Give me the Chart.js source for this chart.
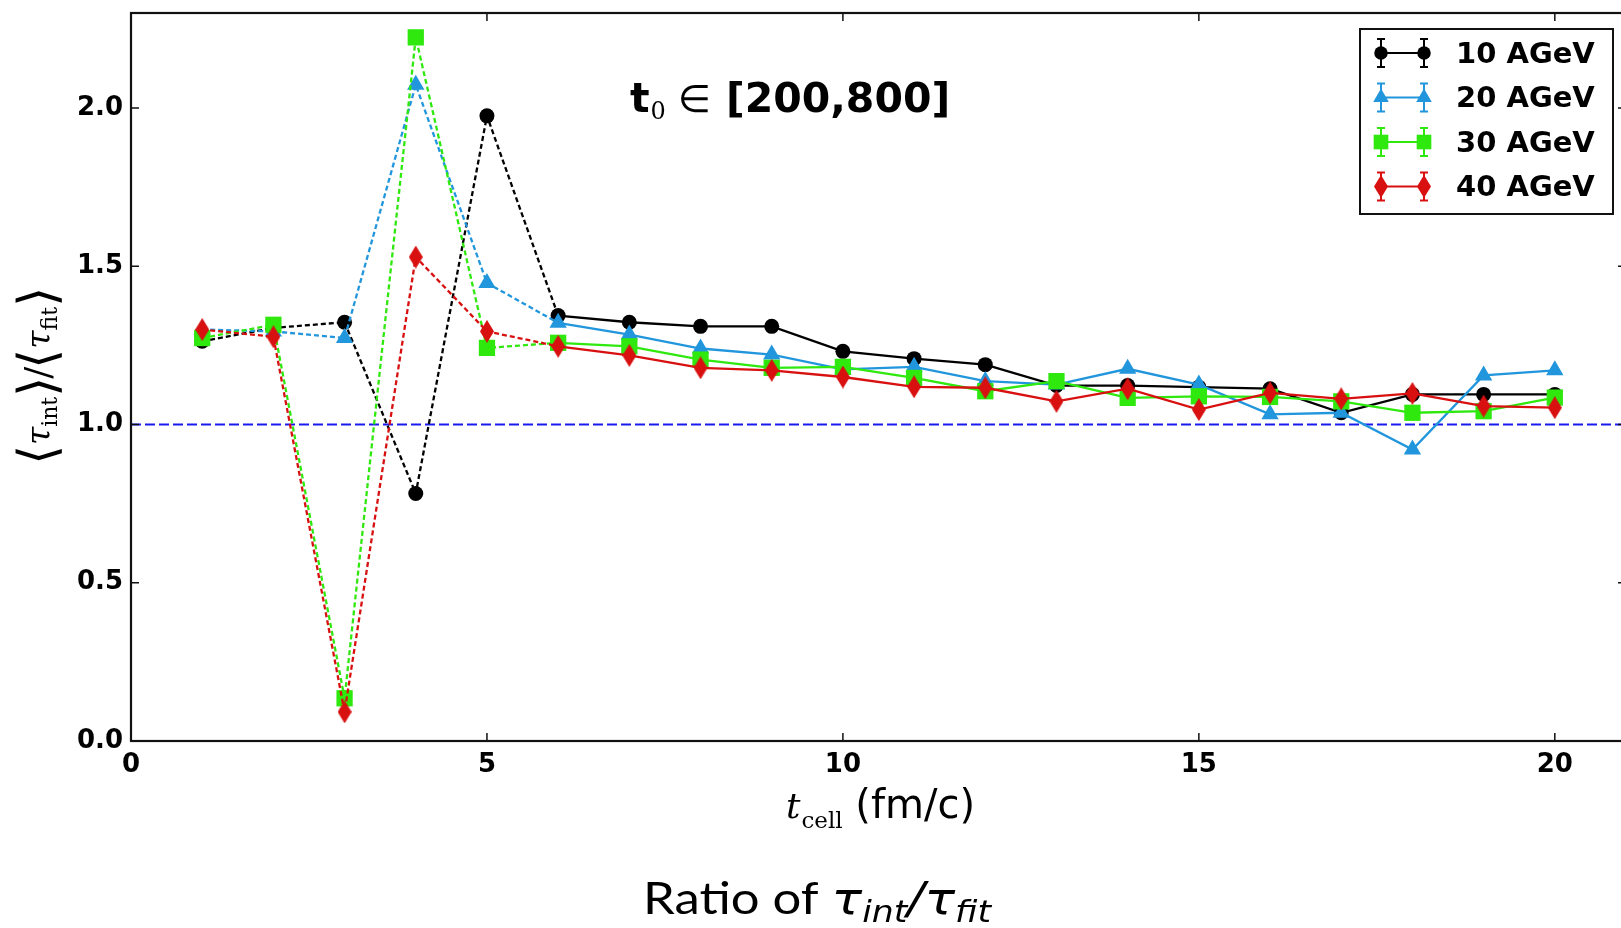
<!DOCTYPE html>
<html>
<head>
<meta charset="utf-8">
<script src="https://cdn.jsdelivr.net/npm/chart.js@4/dist/chart.umd.min.js"></script>
<style>
  html, body { margin: 0; padding: 0; background: #fff; overflow: hidden; }
  #wrap { width: 1660px; height: 928px; }
</style>
</head>
<body>
<div id="wrap"><canvas id="ratioChart" width="1660" height="928"></canvas></div>
<script>
// t_cell (fm/c)
const tCell = [1, 2, 3, 4, 5, 6, 7, 8, 9, 10, 11, 12, 13, 14, 15, 16, 17, 18, 19, 20];

// <tau_int>/<tau_fit> for each beam energy
const ratio10 = [1.263, 1.305, 1.323, 0.782, 1.975, 1.344, 1.323, 1.310, 1.310, 1.231, 1.208, 1.189, 1.123, 1.123, 1.118, 1.113, 1.037, 1.095, 1.095, 1.095];
const ratio20 = [1.300, 1.294, 1.273, 2.073, 1.447, 1.321, 1.284, 1.240, 1.221, 1.174, 1.182, 1.137, 1.126, 1.176, 1.126, 1.032, 1.037, 0.921, 1.155, 1.171];
const ratio30 = [1.273, 1.315, 0.135, 2.223, 1.242, 1.258, 1.247, 1.205, 1.179, 1.182, 1.147, 1.105, 1.137, 1.084, 1.089, 1.087, 1.073, 1.037, 1.042, 1.085];
const ratio40 = [1.300, 1.277, 0.092, 1.529, 1.294, 1.247, 1.218, 1.179, 1.171, 1.150, 1.119, 1.116, 1.073, 1.113, 1.047, 1.100, 1.081, 1.098, 1.058, 1.053];

const seriesLabels = ["10 AGeV", "20 AGeV", "30 AGeV", "40 AGeV"];
const xTicks = [0, 5, 10, 15, 20];
const yTicks = [0.0, 0.5, 1.0, 1.5, 2.0];
const xRange = [0, 21];
const yRange = [0, 2.3];
const refLineY = 1.0;
const dashUntil = 6;   // segments up to t_cell = 6 are dashed

const COLORS = {
  black: "#000000",
  blue: "#2196dc",
  green: "#2ee80e",
  red: "#d81010",
  ref: "#1a1aee"
};

// thin diamond (matplotlib "d") as a small canvas for pointStyle
function makeThinDiamond(color, w, h) {
  const c = document.createElement("canvas");
  c.width = w; c.height = h;
  const g = c.getContext("2d");
  g.fillStyle = color;
  g.beginPath();
  g.moveTo(w / 2, 0);
  g.lineTo(w, h / 2);
  g.lineTo(w / 2, h);
  g.lineTo(0, h / 2);
  g.closePath();
  g.fill();
  return c;
}
const diamondRed = makeThinDiamond(COLORS.red, 14, 23);

function toPoints(ys) {
  return tCell.map((x, i) => ({ x: x, y: ys[i] }));
}

function seriesDataset(label, ys, color, pointStyle, radius, order) {
  return {
    label: label,
    data: toPoints(ys),
    borderColor: color,
    backgroundColor: color,
    pointBackgroundColor: color,
    pointBorderColor: color,
    pointBorderWidth: 0,
    pointStyle: pointStyle,
    pointRadius: radius,
    borderWidth: 2.3,
    tension: 0,
    order: order,
    segment: {
      borderDash: ctx => ctx.p1.parsed.x <= dashUntil ? [5, 3] : undefined
    }
  };
}

// ---------- ตัวช่วยวาดข้อความแบบมีตัวห้อย ----------
function drawPieces(ctx, pieces, x, y) {
  let cx = x;
  pieces.forEach(p => {
    ctx.font = p.font;
    ctx.fillText(p.text, cx, y + (p.dy || 0));
    cx += ctx.measureText(p.text).width + (p.gap || 0);
  });
  return cx - x;
}
function measurePieces(ctx, pieces) {
  let w = 0;
  pieces.forEach(p => {
    ctx.font = p.font;
    w += ctx.measureText(p.text).width + (p.gap || 0);
  });
  return w;
}

// frame + inward ticks on all four sides
const framePlugin = {
  id: "frame",
  afterDatasetsDraw(chart) {
    const { ctx, chartArea: a, scales } = chart;
    ctx.save();
    ctx.strokeStyle = "#111";
    ctx.lineWidth = 1.5;
    const tl = 8;
    ctx.beginPath();
    xTicks.forEach(v => {
      const px = scales.x.getPixelForValue(v);
      ctx.moveTo(px, a.bottom); ctx.lineTo(px, a.bottom - tl);
      ctx.moveTo(px, a.top); ctx.lineTo(px, a.top + tl);
    });
    yTicks.forEach(v => {
      const py = scales.y.getPixelForValue(v);
      ctx.moveTo(a.left, py); ctx.lineTo(a.left + tl, py);
      ctx.moveTo(a.right, py); ctx.lineTo(a.right - tl, py);
    });
    ctx.stroke();
    ctx.lineWidth = 2.2;
    ctx.strokeRect(a.left, a.top, a.right - a.left, a.bottom - a.top);
    ctx.restore();
  }
};

// legend box, title and axis labels
const annotPlugin = {
  id: "annot",
  afterDraw(chart) {
    const ctx = chart.ctx;
    const a = chart.chartArea;
    ctx.save();
    ctx.fillStyle = "#000";
    ctx.textBaseline = "alphabetic";

    // ---- legend ----
    const box = { x: 1360, y: 29, w: 253, h: 185 };
    ctx.fillStyle = "#fff";
    ctx.fillRect(box.x, box.y, box.w, box.h);
    ctx.strokeStyle = "#111";
    ctx.lineWidth = 2;
    ctx.strokeRect(box.x, box.y, box.w, box.h);
    const series = chart.data.datasets.filter(d => d.legendEntry);
    series.forEach((ds, i) => {
      const cy = 53 + i * 44.5;
      const x0 = 1381, x1 = 1424;
      ctx.strokeStyle = ds.borderColor;
      ctx.lineWidth = 2;
      ctx.beginPath();
      ctx.moveTo(x0, cy); ctx.lineTo(x1, cy);
      // error bars with caps
      [x0, x1].forEach(ex => {
        ctx.moveTo(ex, cy - 14); ctx.lineTo(ex, cy + 14);
        ctx.moveTo(ex - 4, cy - 14); ctx.lineTo(ex + 4, cy - 14);
        ctx.moveTo(ex - 4, cy + 14); ctx.lineTo(ex + 4, cy + 14);
      });
      ctx.stroke();
      [x0, x1].forEach(ex => {
        ctx.fillStyle = ds.backgroundColor;
        Chart.helpers.drawPoint(ctx, {
          pointStyle: ds.pointStyle, radius: ds.pointRadius * 0.9, rotation: 0, borderWidth: 0
        }, ex, cy);
      });
      ctx.fillStyle = "#000";
      ctx.font = "bold 29px 'DejaVu Sans'";
      ctx.textBaseline = "middle";
      ctx.fillText(ds.label, 1456, cy + 2);
      ctx.textBaseline = "alphabetic";
    });

    // ---- title t0 ∈ [200,800] ----
    drawPieces(ctx, [
      { text: "t", font: "bold 41px 'DejaVu Sans'", gap: 1 },
      { text: "0", font: "24px 'DejaVu Serif'", dy: 7, gap: 12 },
      { text: "∈", font: "38px 'DejaVu Sans'", gap: 15 },
      { text: "[200,800]", font: "bold 41px 'DejaVu Sans'" }
    ], 630, 112);

    // ---- x axis label ----
    const xl = [
      { text: "t", font: "italic 36px 'DejaVu Serif'", gap: 1 },
      { text: "cell", font: "23px 'DejaVu Serif'", dy: 10, gap: 0 },
      { text: " (fm/c)", font: "40px 'DejaVu Sans'" }
    ];
    const xlw = measurePieces(ctx, xl);
    drawPieces(ctx, xl, (a.left + a.right) / 2 - xlw / 2 + 2, 818);

    // ---- y axis label (rotated) ----
    const br = "200 52px 'DejaVu Sans'";
    const yl = [
      { text: "⟨", font: br, dy: 5 },
      { text: "τ", font: "italic 33px 'DejaVu Serif'" },
      { text: "int", font: "22px 'DejaVu Serif'", dy: 7 },
      { text: "⟩", font: br, dy: 5, gap: -2 },
      { text: "/", font: "36px 'DejaVu Serif'", gap: -2 },
      { text: "⟨", font: br, dy: 5 },
      { text: "τ", font: "italic 33px 'DejaVu Serif'" },
      { text: "fit", font: "22px 'DejaVu Serif'", dy: 7 },
      { text: "⟩", font: br, dy: 5 }
    ];
    const ylw = measurePieces(ctx, yl);
    ctx.save();
    ctx.translate(50, 376);
    ctx.rotate(-Math.PI / 2);
    drawPieces(ctx, yl, -ylw / 2, 0);
    ctx.restore();

    // ---- caption ----
    const cap = [
      { text: "Ratio of ", font: "44px Lato" },
      { text: "τ", font: "italic 44px 'DejaVu Sans'" },
      { text: "int", font: "italic 30px 'DejaVu Sans'", dy: 8 },
      { text: "/", font: "italic 44px 'DejaVu Sans'" },
      { text: "τ", font: "italic 44px 'DejaVu Sans'" },
      { text: "fit", font: "italic 30px 'DejaVu Sans'", dy: 8 }
    ];
    const capW = measurePieces(ctx, cap);
    const targetW = 348;
    ctx.save();
    ctx.translate(643, 914);
    ctx.scale(targetW / capW, 1);
    drawPieces(ctx, cap, 0, 0);
    ctx.restore();

    ctx.restore();
  }
};

const datasets = [
  seriesDataset(seriesLabels[0], ratio10, COLORS.black, "circle", 7.5, 4),
  seriesDataset(seriesLabels[1], ratio20, COLORS.blue, "triangle", 10, 3),
  seriesDataset(seriesLabels[2], ratio30, COLORS.green, "rect", 11.5, 2),
  seriesDataset(seriesLabels[3], ratio40, COLORS.red, diamondRed, 8, 1)
];
datasets.forEach(d => { d.legendEntry = true; });
datasets.push({
  label: "ref",
  data: xRange.map(x => ({ x: x, y: refLineY })),
  borderColor: COLORS.ref,
  borderWidth: 2,
  borderDash: [10, 4],
  pointRadius: 0,
  order: 5
});

function noEdgePadding(s) {
  s.paddingTop = 0; s.paddingBottom = 0; s.paddingLeft = 0; s.paddingRight = 0;
}

new Chart(document.getElementById("ratioChart"), {
  type: "line",
  data: { datasets: datasets },
  options: {
    responsive: false,
    animation: false,
    devicePixelRatio: 1,
    layout: { padding: { top: 13, right: 34, left: 0, bottom: 0 } },
    plugins: {
      legend: { display: false },
      tooltip: { enabled: false },
      title: { display: false }
    },
    scales: {
      x: {
        type: "linear",
        min: xRange[0],
        max: xRange[1],
        afterBuildTicks: s => { s.ticks = xTicks.map(v => ({ value: v })); },
        afterFit: s => { s.height = 187; noEdgePadding(s); },
        grid: { display: false, drawTicks: false },
        border: { display: false },
        ticks: {
          color: "#000",
          padding: 9,
          font: { family: "'DejaVu Sans'", weight: "bold", size: 26 },
          callback: v => String(v)
        }
      },
      y: {
        type: "linear",
        min: yRange[0],
        max: yRange[1],
        afterBuildTicks: s => { s.ticks = yTicks.map(v => ({ value: v })); },
        afterFit: s => { s.width = 131; noEdgePadding(s); },
        grid: { display: false, drawTicks: false },
        border: { display: false },
        ticks: {
          color: "#000",
          padding: 8,
          font: { family: "'DejaVu Sans'", weight: "bold", size: 26 },
          callback: v => v.toFixed(1)
        }
      }
    }
  },
  plugins: [framePlugin, annotPlugin]
});
</script>
</body>
</html>
